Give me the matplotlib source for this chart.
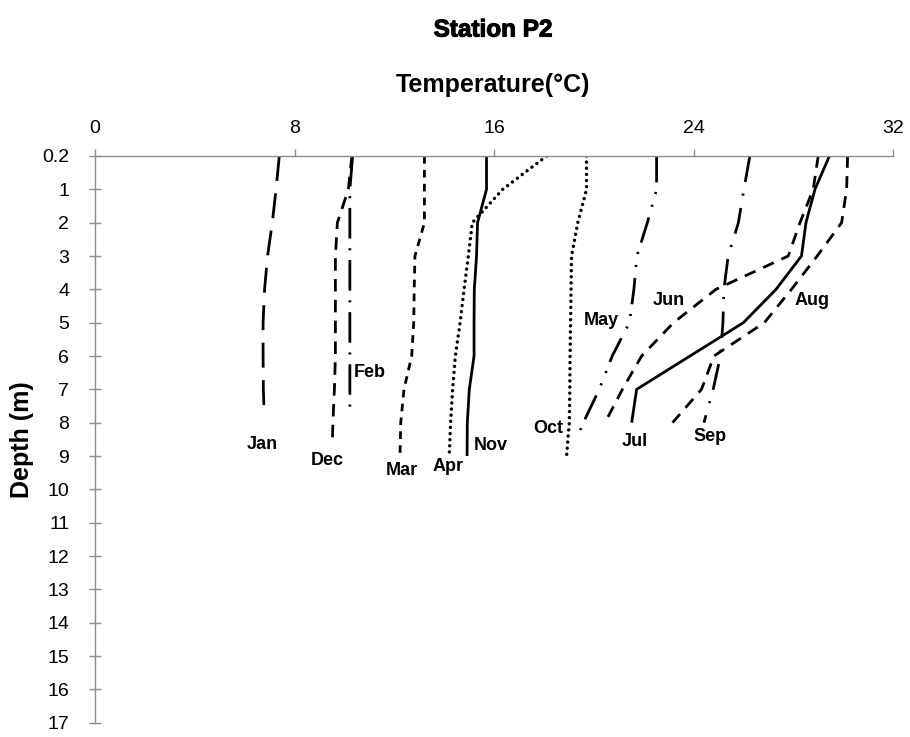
import matplotlib
matplotlib.use('Agg')
import matplotlib.pyplot as plt
import matplotlib.patheffects as pe

plt.rcParams['font.family'] = ['Liberation Sans', 'DejaVu Sans']
plt.rcParams['lines.scale_dashes'] = False

# ---------------- data ----------------
depth_tick_labels = ['0.2'] + [str(i) for i in range(1, 18)]
temp_ticks = [0, 8, 16, 24, 32]

jan_depth = [0.2, 1, 2, 3, 4, 5, 6, 7, 7.8]
jan_temp = [7.39, 7.26, 7.11, 6.92, 6.80, 6.74, 6.74, 6.75, 6.79]

feb_depth = [0.2, 1, 2, 3, 4, 5, 6, 7, 7.7]
feb_temp = [10.33, 10.22, 10.22, 10.22, 10.22, 10.22, 10.22, 10.22, 10.22]

mar_depth = [0.2, 1, 2, 3, 4, 5, 6, 7, 8, 9]
mar_temp = [13.21, 13.21, 13.21, 12.83, 12.80, 12.78, 12.70, 12.39, 12.26, 12.23]

apr_depth = [0.2, 1, 2, 3, 4, 5, 6, 7, 8, 8.9]
apr_temp = [18.11, 16.35, 15.13, 14.97, 14.80, 14.64, 14.45, 14.34, 14.26, 14.21]

may_depth = [0.2, 1, 2, 3, 4, 5, 6, 7, 8, 8.5]
may_temp = [22.52, 22.52, 22.15, 21.73, 21.61, 21.43, 20.74, 20.22, 19.58, 19.31]

jun_depth = [0.2, 1, 2, 3, 4, 5, 6, 7, 8]
jun_temp = [29.00, 28.80, 28.27, 27.80, 24.90, 23.20, 21.92, 21.15, 20.45]

jul_depth = [0.2, 1, 2, 3, 4, 5, 6, 7, 8]
jul_temp = [29.45, 28.87, 28.51, 28.33, 27.31, 26.00, 23.86, 21.72, 21.52]

aug_depth = [0.2, 1, 2, 3, 4, 5, 6, 7, 8]
aug_temp = [30.18, 30.14, 29.94, 28.96, 27.93, 26.84, 24.82, 24.32, 23.16]

sep_depth = [0.2, 1, 2, 3, 4, 5, 6, 7, 8]
sep_temp = [26.26, 26.02, 25.80, 25.39, 25.22, 25.18, 25.08, 24.79, 24.42]

oct_depth = [0.2, 1, 2, 3, 4, 5, 6, 7, 8, 9]
oct_temp = [19.71, 19.71, 19.36, 19.11, 19.09, 19.07, 19.05, 19.04, 19.02, 18.91]

nov_depth = [0.2, 1, 2, 3, 4, 5, 6, 7, 8, 9]
nov_temp = [15.70, 15.70, 15.34, 15.30, 15.21, 15.20, 15.20, 15.01, 14.93, 14.92]

dec_depth = [0.2, 1, 2, 3, 4, 5, 6, 7, 8, 8.5]
dec_temp = [10.30, 10.16, 9.72, 9.64, 9.64, 9.64, 9.64, 9.60, 9.54, 9.52]


def ypos(depths):
    # the 0.2 m level sits on the first category slot of the depth axis
    return [0.0 if d == 0.2 else d for d in depths]


# ---------------- styles ----------------
LW = 2.0
DOT = dict(linestyle=(0, (0.01, 4.4)), dash_capstyle='round', linewidth=2.5)
styles = {
    'Jan': dict(linestyle=(0, (18, 9))),
    'Feb': dict(linestyle=(0, (22, 7, 1.5, 7))),
    'Mar': dict(linestyle=(0, (5.5, 4.5))),
    'Apr': DOT,
    'May': dict(linestyle=(0, (19, 7, 1.5, 8, 1.5, 8))),
    'Jun': dict(linestyle=(0, (8.5, 6))),
    'Jul': dict(linestyle='-'),
    'Aug': dict(linestyle=(0, (8.5, 6))),
    'Sep': dict(linestyle=(0, (19, 8.5, 1.5, 9))),
    'Oct': DOT,
    'Nov': dict(linestyle='-'),
    'Dec': dict(linestyle=(0, (9, 6))),
}

series = [
    ('Jan', jan_temp, jan_depth), ('Feb', feb_temp, feb_depth),
    ('Mar', mar_temp, mar_depth), ('Apr', apr_temp, apr_depth),
    ('May', may_temp, may_depth), ('Jun', jun_temp, jun_depth),
    ('Jul', jul_temp, jul_depth), ('Aug', aug_temp, aug_depth),
    ('Sep', sep_temp, sep_depth), ('Oct', oct_temp, oct_depth),
    ('Nov', nov_temp, nov_depth), ('Dec', dec_temp, dec_depth),
]

# label anchor positions (temperature, depth slot)
label_pos = {
    'Jan': (6.71, 8.64), 'Feb': (11.03, 6.49), 'Mar': (12.30, 9.42),
    'Apr': (14.17, 9.32), 'May': (20.32, 4.92), 'Jun': (22.99, 4.32),
    'Jul': (21.65, 8.57), 'Aug': (28.74, 4.32), 'Sep': (24.66, 8.42),
    'Oct': (18.18, 8.17), 'Nov': (15.88, 8.67), 'Dec': (9.31, 9.14),
}

# ---------------- figure ----------------
W, H = 910, 737
fig = plt.figure(figsize=(W / 100, H / 100), dpi=100)
ax = fig.add_axes([95 / W, 1 - 722.7 / H, (893 - 95) / W, (722.7 - 156) / H])

for name, temps, depths in series:
    kw = {'dash_capstyle': 'butt', 'linewidth': LW}
    kw.update(styles[name])
    ax.plot(temps, ypos(depths), color='black', solid_capstyle='butt', **kw)

for name, (tx, ty) in label_pos.items():
    ax.text(tx, ty, name, ha='center', va='center', fontsize=13,
            fontweight='bold', color='black')

ax.set_xlim(0, 32)
ax.set_ylim(17, 0)
ax.set_xticks(temp_ticks)
ax.set_yticks(range(18))
ax.set_yticklabels(depth_tick_labels)

ax.xaxis.tick_top()
ax.xaxis.set_label_position('top')
for s in ['right', 'bottom']:
    ax.spines[s].set_visible(False)
for s in ['left', 'top']:
    ax.spines[s].set_color('#8c8c8c')
    ax.spines[s].set_linewidth(1.0)

ax.tick_params(axis='x', direction='out', length=5, width=1, color='#8c8c8c',
               labelsize=14, pad=9, top=True, bottom=False)
ax.tick_params(axis='y', direction='inout', length=9, width=1, color='#8c8c8c',
               labelsize=14, pad=14)

fig.text(493 / W, 1 - 30 / H, 'Station P2', ha='center', va='center',
         fontsize=17.5, fontweight='heavy',
         path_effects=[pe.withStroke(linewidth=0.8, foreground='black')])
fig.text(493 / W, 1 - 85 / H, 'Temperature(°C)', ha='center', va='center',
         fontsize=18, fontweight='bold')
fig.text(22 / W, 1 - 440 / H, 'Depth (m)', ha='center', va='center',
         fontsize=18, fontweight='bold', rotation=90)

fig.savefig('out.png', dpi=100)
